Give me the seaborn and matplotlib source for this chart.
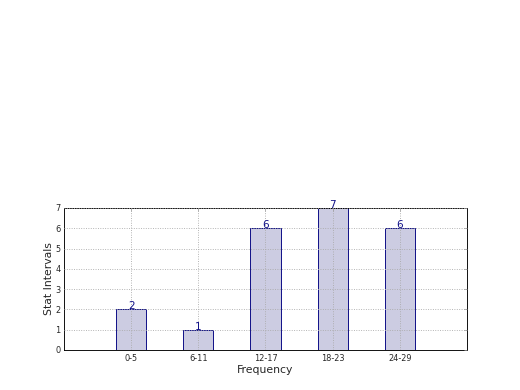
import matplotlib
matplotlib.use("Agg")
import matplotlib.pyplot as plt
import seaborn as sns
import pandas as pd

categories = ["0-5", "6-11", "12-17", "18-23", "24-29"]
values = [2, 1, 6, 7, 6]

df = pd.DataFrame({"interval": categories, "count": values})

sns.set_style("white")
plt.rcParams["font.family"] = ["DejaVu Sans"]

fig = plt.figure(figsize=(8, 6), dpi=65)
ax = fig.add_axes([0.123, 0.1026, 0.775, 0.3641])

sns.barplot(data=df, x="interval", y="count", ax=ax, color="#ccccE2",
            saturation=1, width=0.45, edgecolor="#000080", linewidth=1.0)

for i, v in enumerate(values):
    ax.annotate(str(v), (i, v), xytext=(0, -2), textcoords="offset points",
                ha="center", va="bottom", color="#101088", fontsize=11.5)

ax.set_xlim(-1, 5)
ax.set_ylim(0, 7)
ax.set_yticks(range(0, 8))
ax.set_xlabel("Frequency", fontsize=12, labelpad=3)
ax.set_ylabel("Stat Intervals", fontsize=12, labelpad=1)
ax.tick_params(axis="both", labelsize=9, direction="in", length=3,
               color="#999999", top=True, right=True, pad=4)
ax.grid(True, linestyle=":", color="#aaaaaa", linewidth=1.0)
ax.set_axisbelow(False)
for s in ax.spines.values():
    s.set_color("black")
    s.set_linewidth(1.0)
    s.set_visible(True)

fig.savefig("out.png", dpi=65)
